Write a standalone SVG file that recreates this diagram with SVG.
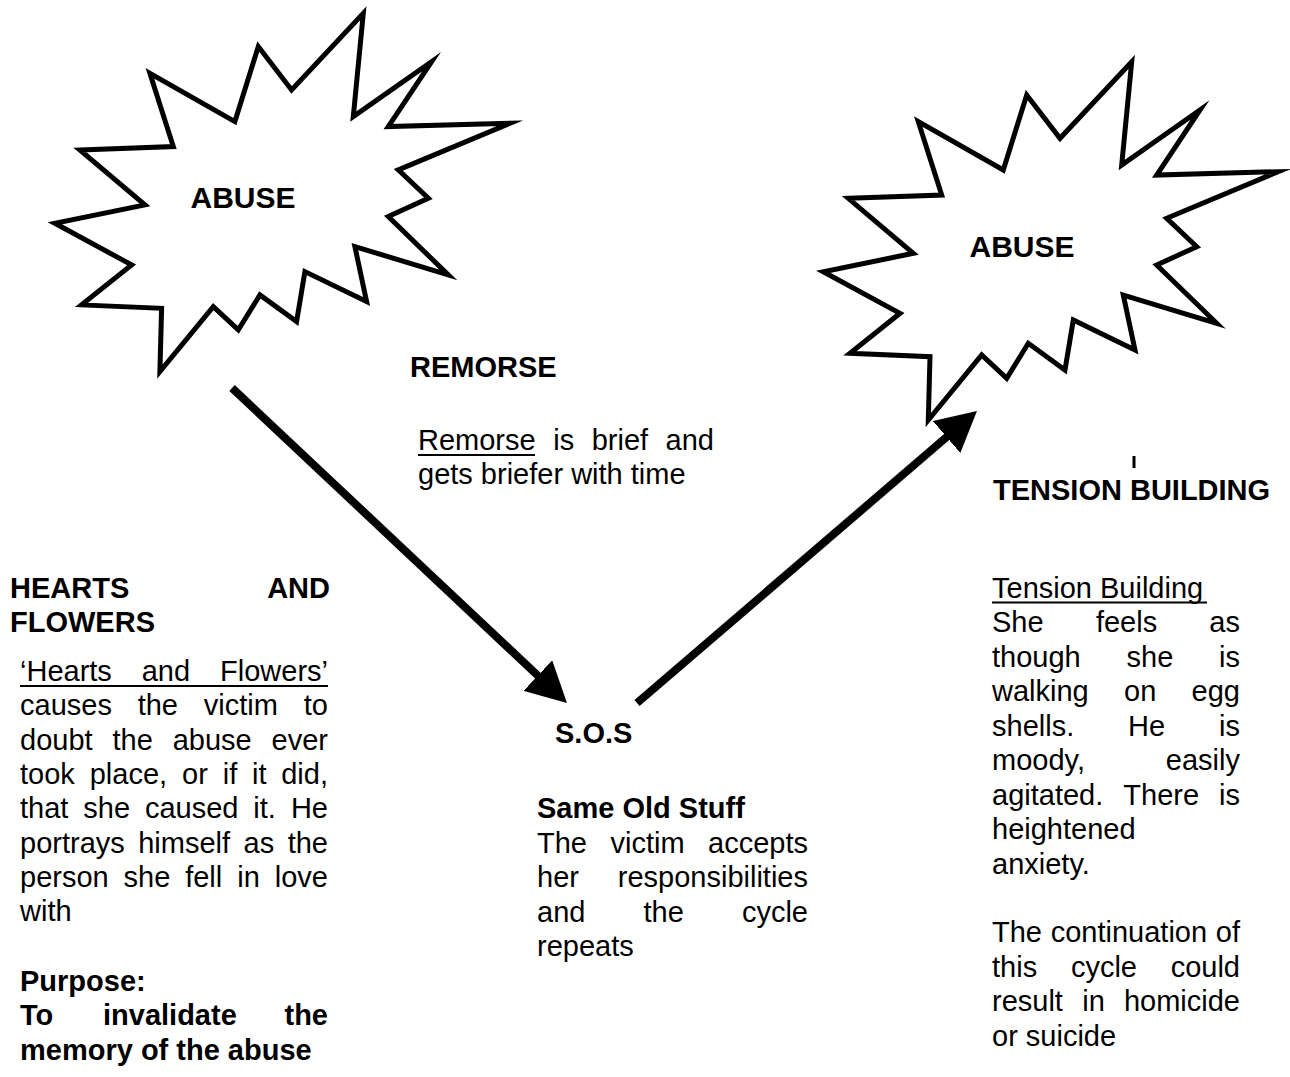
<svg xmlns="http://www.w3.org/2000/svg" width="1290" height="1077" viewBox="0 0 1290 1077">
<style>
text{font-family:"Liberation Sans",Arial,sans-serif;font-size:29px;fill:#000}
.b{font-weight:bold}
.h{font-weight:bold;font-size:30px;text-anchor:middle}
.e{text-anchor:end}
.star{fill:#fff;stroke:#000;stroke-width:5;stroke-linejoin:miter;stroke-miterlimit:10}
.arr{fill:none;stroke:#000;stroke-width:8}
.ul{stroke:#000;stroke-width:2}
</style>
<defs>
<polygon id="burst" points="1131.7,61.7 1121.7,165 1200,110 1156.7,175 1278.3,171.7 1166.7,218.3 1196.7,246.7 1156.7,265 1216.7,323.3 1123.3,295 1135,350 1073.3,320 1065,370 1028.3,343.3 1006.7,378.3 981.7,355 928.3,420 930,356.7 850,353.3 900,313.3 823.3,271.7 913.3,253.3 848.3,198.3 941.7,195 918.3,121.7 1003.3,170 1026.7,95 1060,138.3"/>
<marker id="ah" markerUnits="userSpaceOnUse" markerWidth="42" markerHeight="42" refX="20" refY="21" orient="auto">
<path d="M0,0 L40,21 L0,42 z" fill="#000"/>
</marker>
</defs>
<g id="abuse-left">
<use href="#burst" class="star" transform="translate(-768.4,-48.4)"/>
<text class="h" x="243" y="208">ABUSE</text>
</g>
<g id="abuse-right">
<use href="#burst" class="star"/>
<text class="h" x="1022" y="257">ABUSE</text>
</g>
<g id="connectors">
<path class="arr" d="M232,388 L552.4,689.3" marker-end="url(#ah)"/>
<path class="arr" d="M637,703 L961.8,424" marker-end="url(#ah)"/>
</g>
<g id="remorse">
<text class="b" x="410" y="377">REMORSE</text>
<text x="418" y="450">Remorse</text>
<line class="ul" x1="418" y1="455" x2="535" y2="455"/>
<text x="553.2" y="450">is</text>
<text x="591.7" y="450">brief</text>
<text class="e" x="714" y="450">and</text>
<text x="418" y="484">gets briefer with time</text>
</g>
<g id="hearts-and-flowers">
<text class="b" x="10" y="598">HEARTS</text>
<text class="b e" x="330" y="598">AND</text>
<text class="b" x="10" y="632">FLOWERS</text>
<text x="20" y="681">‘Hearts</text>
<text x="141.7" y="681">and</text>
<text class="e" x="328" y="681">Flowers’</text>
<line class="ul" x1="20" y1="686" x2="328" y2="686"/>
<text x="20" y="715.3">causes</text>
<text x="137.7" y="715.3">the</text>
<text x="203.8" y="715.3">victim</text>
<text class="e" x="328" y="715.3">to</text>
<text x="20" y="749.6">doubt</text>
<text x="112.5" y="749.6">the</text>
<text x="172.7" y="749.6">abuse</text>
<text class="e" x="328" y="749.6">ever</text>
<text x="20" y="783.9">took</text>
<text x="89.7" y="783.9">place,</text>
<text x="182" y="783.9">or</text>
<text x="222.7" y="783.9">if</text>
<text x="252.1" y="783.9">it</text>
<text class="e" x="328" y="783.9">did,</text>
<text x="20" y="818.2">that</text>
<text x="83.3" y="818.2">she</text>
<text x="144.9" y="818.2">caused</text>
<text x="253.3" y="818.2">it.</text>
<text class="e" x="328" y="818.2">He</text>
<text x="20" y="852.5">portrays</text>
<text x="138.2" y="852.5">himself</text>
<text x="243.5" y="852.5">as</text>
<text class="e" x="328" y="852.5">the</text>
<text x="20" y="886.8">person</text>
<text x="123.6" y="886.8">she</text>
<text x="185.2" y="886.8">fell</text>
<text x="237.2" y="886.8">in</text>
<text class="e" x="328" y="886.8">love</text>
<text x="20" y="921.1">with</text>
<text class="b" x="20" y="990.5">Purpose:</text>
<text class="b" x="20" y="1025">To</text>
<text class="b" x="103" y="1025">invalidate</text>
<text class="b e" x="328" y="1025">the</text>
<text class="b" x="20" y="1059.5">memory of the abuse</text>
</g>
<g id="sos">
<text class="b" x="555" y="743">S.O.S</text>
<text class="b" x="537" y="818">Same Old Stuff</text>
<text x="537" y="852.5">The</text>
<text x="610.5" y="852.5">victim</text>
<text class="e" x="808" y="852.5">accepts</text>
<text x="537" y="887">her</text>
<text class="e" x="808" y="887">responsibilities</text>
<text x="537" y="921.5">and</text>
<text x="643.5" y="921.5">the</text>
<text class="e" x="808" y="921.5">cycle</text>
<text x="537" y="956">repeats</text>
</g>
<g id="tension-building">
<line x1="1134" y1="456" x2="1134" y2="468" stroke="#000" stroke-width="3"/>
<text class="b" x="993" y="500">TENSION BUILDING</text>
<text x="992" y="597.5">Tension Building</text>
<line class="ul" x1="992" y1="602.5" x2="1207" y2="602.5"/>
<text x="992" y="632">She</text>
<text x="1095.9" y="632">feels</text>
<text class="e" x="1240" y="632">as</text>
<text x="992" y="666.5">though</text>
<text x="1126.5" y="666.5">she</text>
<text class="e" x="1240" y="666.5">is</text>
<text x="992" y="701">walking</text>
<text x="1124.1" y="701">on</text>
<text class="e" x="1240" y="701">egg</text>
<text x="992" y="735.5">shells.</text>
<text x="1128.1" y="735.5">He</text>
<text class="e" x="1240" y="735.5">is</text>
<text x="992" y="770">moody,</text>
<text class="e" x="1240" y="770">easily</text>
<text x="992" y="804.5">agitated.</text>
<text x="1123.3" y="804.5">There</text>
<text class="e" x="1240" y="804.5">is</text>
<text x="992" y="839">heightened</text>
<text x="992" y="873.5">anxiety.</text>
<text x="992" y="942">The</text>
<text x="1050.7" y="942">continuation</text>
<text class="e" x="1240" y="942">of</text>
<text x="992" y="976.5">this</text>
<text x="1070.9" y="976.5">cycle</text>
<text class="e" x="1240" y="976.5">could</text>
<text x="992" y="1011">result</text>
<text x="1082.2" y="1011">in</text>
<text class="e" x="1240" y="1011">homicide</text>
<text x="992" y="1045.5">or suicide</text>
</g>
</svg>
